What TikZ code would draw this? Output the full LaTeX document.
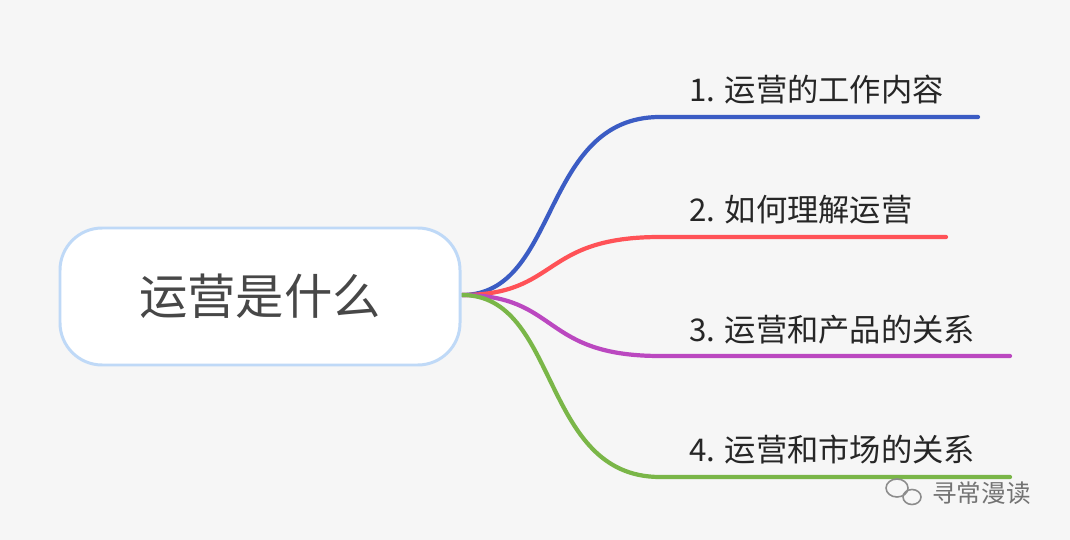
\documentclass[tikz,border=0pt]{standalone}
\usepackage{fontspec}
\setmainfont{Liberation Sans}
\newfontfamily\cjk{Noto Sans CJK SC}
\begin{document}
\begin{tikzpicture}[x=0.02cm,y=-0.02cm,
  br/.style={line width=2.4pt,line cap=round},
  lab/.style={anchor=base west,inner sep=0pt,font=\cjk\fontsize{17.8}{17.8}\selectfont,text=black!85}]
\fill[black!3.5] (0,0) rectangle (1070,540);
\useasboundingbox (0,0) rectangle (1070,540);
\definecolor{c1}{HTML}{3B5CC4}\definecolor{c2}{HTML}{FF5257}
\definecolor{c3}{HTML}{BB48C0}\definecolor{c4}{HTML}{7AB648}
\coordinate (o) at (462,295);
\coordinate (a1) at (660,117);\coordinate (e1) at (978,117);
\coordinate (a2) at (660,237);\coordinate (e2) at (946,237);
\coordinate (a3) at (660,356);\coordinate (e3) at (1010,356);
\coordinate (a4) at (660,477);\coordinate (e4) at (1010,477);
\draw[br,c1] (o) .. controls (560,295) and (540,117) .. (a1) -- (e1);
\draw[br,c2] (o) .. controls (560,295) and (540,237) .. (a2) -- (e2);
\draw[br,c3] (o) .. controls (560,295) and (540,356) .. (a3) -- (e3);
\draw[br,c4] (o) .. controls (560,295) and (540,477) .. (a4) -- (e4);
\node[draw={rgb,255:red,191;green,217;blue,247},line width=1.7pt,fill=white,rounded corners=24pt,minimum width=400*0.02cm,minimum height=137*0.02cm,font=\cjk\fontsize{27.5}{27.5}\selectfont,text=black!72] (root) at (260,296.5) {运营是什么};
\node[lab] (t1) at (689,102) {1. 运营的工作内容};
\node[lab] (t2) at (689,222) {2. 如何理解运营};
\node[lab] (t3) at (689,341) {3. 运营和产品的关系};
\node[lab] (t4) at (689,461) {4. 运营和市场的关系};
\draw[black!45,line width=0.9pt] (897,488) ellipse (11 and 9);
\draw[black!45,line width=0.9pt] (912,497) ellipse (9 and 7.5);
\node[anchor=west,inner sep=0pt,font=\cjk\fontsize{14}{14}\selectfont,text=black!55] (wm) at (932,493) {寻常漫读};
\end{tikzpicture}
\end{document}
